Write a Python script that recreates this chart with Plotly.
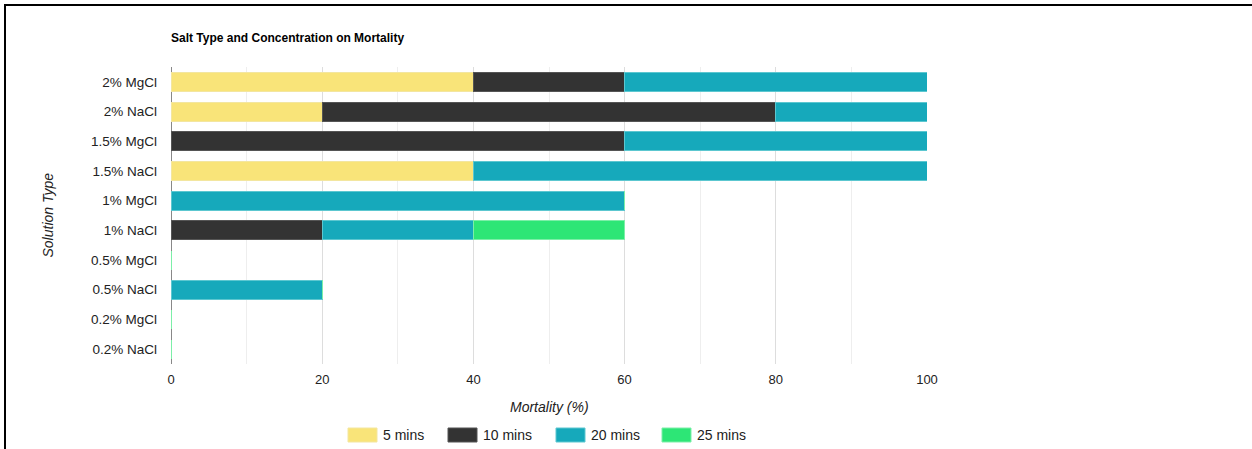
import plotly.graph_objects as go

categories = ["2% MgCl", "2% NaCl", "1.5% MgCl", "1.5% NaCl", "1% MgCl",
              "1% NaCl", "0.5% MgCl", "0.5% NaCl", "0.2% MgCl", "0.2% NaCl"]
series_names = ["5 mins", "10 mins", "20 mins", "25 mins"]
mins5 = [40, 20, 0, 40, 0, 0, 0, 0, 0, 0]
mins10 = [20, 60, 60, 0, 0, 20, 0, 0, 0, 0]
mins20 = [40, 20, 40, 60, 60, 20, 0, 20, 0, 0]
mins25 = [0, 0, 0, 0, 0, 20, 0, 0, 0, 0]
colors = ["#f9e479", "#333333", "#16a9bb", "#2de676"]
edge_colors = ["#f3e6a0", "#555555", "#5cc7d0", "#7cefa8"]
x_ticks = [0, 20, 40, 60, 80, 100]

W, H = 1252, 449
L, R, T, B = 171, 927, 67, 364

fig = go.Figure()
for name, vals, c, ec in zip(series_names, [mins5, mins10, mins20, mins25], colors, edge_colors):
    fig.add_trace(go.Bar(y=categories, x=vals, name=name, orientation="h",
                         marker=dict(color=c, line=dict(color=ec, width=1)),
                         showlegend=False))

def px(x):
    return (x - L) / (R - L)

def py(y):
    return (B - y) / (B - T)

shapes = []
annotations = []
# border (top and left)
shapes.append(dict(type="line", xref="paper", yref="paper", x0=px(4), x1=px(1252),
                   y0=py(5), y1=py(5), line=dict(color="black", width=2)))
shapes.append(dict(type="line", xref="paper", yref="paper", x0=px(5), x1=px(5),
                   y0=py(4), y1=py(449), line=dict(color="black", width=2)))

# custom legend
leg_box_x = [348, 448, 556, 662]
for i, (name, c) in enumerate(zip(series_names, colors)):
    bx = leg_box_x[i]
    shapes.append(dict(type="rect", xref="paper", yref="paper",
                       x0=px(bx), x1=px(bx + 29), y0=py(442), y1=py(428),
                       fillcolor=c, line=dict(color=edge_colors[i], width=1)))
    annotations.append(dict(xref="paper", yref="paper", x=px(bx + 33), y=py(435),
                            xanchor="left", yanchor="middle", showarrow=False,
                            text=name, font=dict(size=14, color="#222222")))

annotations.append(dict(xref="paper", yref="paper", x=0.5, y=py(407),
                        xanchor="center", yanchor="middle", showarrow=False,
                        text="<i>Mortality (%)</i>", font=dict(size=14, color="#222222")))
annotations.append(dict(xref="paper", yref="paper", x=px(47), y=0.5,
                        xanchor="center", yanchor="middle", showarrow=False, textangle=-90,
                        text="<i>Solution Type</i>", font=dict(size=14, color="#222222")))

fig.update_layout(
    width=W, height=H,
    margin=dict(l=L, r=W - R, t=T, b=H - B, pad=0),
    paper_bgcolor="white", plot_bgcolor="white",
    barmode="stack", bargap=0.36,
    font=dict(family="Liberation Sans, Arial, sans-serif", size=12, color="#222222"),
    title=dict(text="<b>Salt Type and Concentration on Mortality</b>",
               x=0, xref="paper", xanchor="left", y=1 - 38 / H, yanchor="middle",
               font=dict(size=12, color="#000000")),
    shapes=shapes, annotations=annotations,
)
fig.update_xaxes(range=[0, 100], tickvals=x_ticks, ticktext=[str(v) for v in x_ticks],
                 showgrid=True, gridcolor="#dddddd", gridwidth=1,
                 minor=dict(dtick=10, showgrid=True, gridcolor="#eeeeee", gridwidth=1),
                 zeroline=True, zerolinecolor="#888888", zerolinewidth=1,
                 ticks="", tickfont=dict(size=13, color="#222222"), ticklabelstandoff=6)
fig.update_yaxes(categoryorder="array", categoryarray=categories[::-1],
                 showgrid=False, ticks="", tickfont=dict(size=13.5, color="#222222"),
                 ticklabelstandoff=13)

fig.write_html("out.html")
